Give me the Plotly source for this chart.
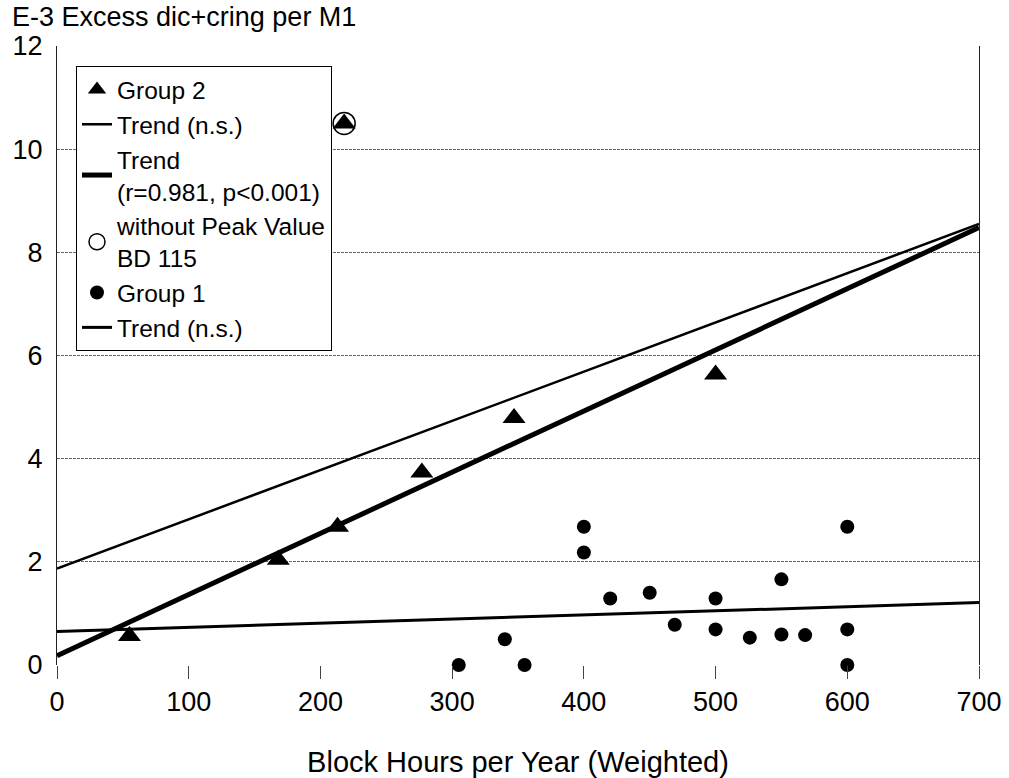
import plotly.graph_objects as go

# Group 2 (triangles)
g2_x = [55, 168, 213, 277, 347, 500, 218]
g2_y = [0.56, 2.04, 2.68, 3.73, 4.79, 5.63, 10.5]
# peak value marked with open circle
peak_x = [218]
peak_y = [10.5]
# Group 1 (dots)
g1_x = [305, 340, 355, 400, 400, 420, 450, 469, 500, 500, 526, 550, 550, 568, 600, 600, 600]
g1_y = [0.0, 0.5, 0.0, 2.68, 2.18, 1.29, 1.40, 0.78, 1.29, 0.69, 0.53, 0.59, 1.66, 0.58, 2.68, 0.69, 0.0]
# Trend lines (endpoints)
trend_x = [0, 700]
trend_g2_all = [1.87, 8.55]
trend_g2_sig = [0.18, 8.48]
trend_g1 = [0.65, 1.21]

fig = go.Figure()
fig.add_trace(go.Scatter(x=g2_x, y=g2_y, mode="markers", name="Group 2", cliponaxis=False,
                         marker=dict(symbol="triangle-up", size=20, color="black")))
fig.add_trace(go.Scatter(x=trend_x, y=trend_g2_all, mode="lines", name="Trend (n.s.)",
                         line=dict(color="black", width=2.5)))
fig.add_trace(go.Scatter(x=trend_x, y=trend_g2_sig, mode="lines",
                         name="Trend<br>(r=0.981, p<0.001)",
                         line=dict(color="black", width=5)))
fig.add_trace(go.Scatter(x=peak_x, y=peak_y, mode="markers", cliponaxis=False,
                         name="without Peak Value<br>BD 115",
                         marker=dict(symbol="circle-open", size=22, color="black",
                                     line=dict(width=1.5))))
fig.add_trace(go.Scatter(x=g1_x, y=g1_y, mode="markers", name="Group 1", cliponaxis=False,
                         marker=dict(symbol="circle", size=14, color="black")))
fig.add_trace(go.Scatter(x=trend_x, y=trend_g1, mode="lines", name="Trend (n.s.)",
                         line=dict(color="black", width=3)))

fig.update_layout(
    width=1009, height=778,
    margin=dict(l=57, r=30, t=46, b=113),
    paper_bgcolor="white", plot_bgcolor="white",
    font=dict(family="Liberation Sans, Arial, sans-serif", color="black", size=24),
    title=dict(text="E-3 Excess dic+cring per M1", x=12/1009, xanchor="left",
               xref="container", y=1-17/778, yanchor="middle", yref="container",
               font=dict(size=27)),
    legend=dict(x=(76-57)/922, y=1-(66-46)/619, xanchor="left", yanchor="top",
                bgcolor="white", bordercolor="black", borderwidth=1,
                font=dict(size=24.5), itemwidth=30, tracegroupgap=0),
    showlegend=True,
)
fig.update_xaxes(range=[0, 700], tickvals=[0, 100, 200, 300, 400, 500, 600, 700],
                 ticks="outside", ticklen=13, tickcolor="#444", tickwidth=1,
                 showgrid=False, zeroline=False, showline=False, automargin=False,
                 tickfont=dict(size=27),
                 title=dict(text="Block Hours per Year (Weighted)", font=dict(size=29), standoff=35))
fig.update_yaxes(range=[0, 12], tickvals=[0, 2, 4, 6, 8, 10, 12],
                 showgrid=True, gridcolor="#666", griddash="3px,1px", gridwidth=1,
                 zeroline=False, showline=True, linecolor="#222", linewidth=1,
                 mirror=True, ticks="", tickfont=dict(size=27), ticklabelstandoff=8,
                 automargin=False)

fig.write_html("out.html")
